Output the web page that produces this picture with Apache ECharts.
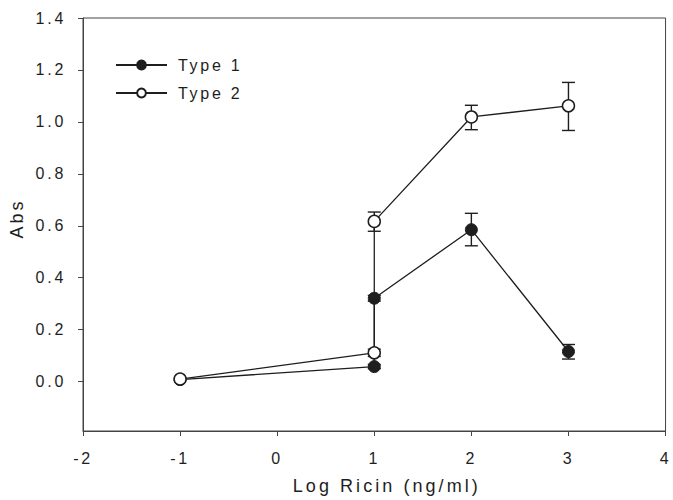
<!DOCTYPE html>
<html>
<head>
<meta charset="utf-8">
<script src="https://cdn.jsdelivr.net/npm/echarts@6/dist/echarts.min.js"></script>
<style>
html,body{margin:0;padding:0;background:#fff}
#c{width:673px;height:500px}
#c text{letter-spacing:0.17em}
</style>
</head>
<body>
<div id="c"></div>
<script>
// Data
const seriesNames = ['Type 1', 'Type 2'];
const type1X = [-1, 1, 1, 2, 3];
const type1Y = [0.008, 0.058, 0.321, 0.585, 0.116];
const type1Low = [0.008, 0.050, 0.310, 0.523, 0.087];
const type1High = [0.008, 0.066, 0.332, 0.648, 0.143];
const type2X = [-1, 1, 1, 2, 3];
const type2Y = [0.010, 0.111, 0.617, 1.019, 1.062];
const type2Low = [0.010, 0.097, 0.579, 0.970, 0.967];
const type2High = [0.010, 0.125, 0.653, 1.064, 1.152];
const yTicks = [0, 0.2, 0.4, 0.6, 0.8, 1.0, 1.2, 1.4];
const xTicks = [-2, -1, 0, 1, 2, 3, 4];

const ink = '#1e1e1e';
const axisInk = '#444';
const font = 'Liberation Sans, Arial, sans-serif';

function pts(xs, ys) { return xs.map((x, i) => [x, ys[i]]); }
function errData(xs, lo, hi) { return xs.map((x, i) => [x, lo[i], hi[i]]); }

function errRender(params, api) {
  const x = api.value(0), lo = api.value(1), hi = api.value(2);
  if (hi - lo < 1e-6) return null;
  const p1 = api.coord([x, lo]), p2 = api.coord([x, hi]);
  const w = 6.5;
  const st = { stroke: ink, lineWidth: 1.4 };
  return { type: 'group', children: [
    { type: 'line', shape: { x1: p1[0], y1: p1[1], x2: p2[0], y2: p2[1] }, style: st },
    { type: 'line', shape: { x1: p1[0] - w, y1: p1[1], x2: p1[0] + w, y2: p1[1] }, style: st },
    { type: 'line', shape: { x1: p2[0] - w, y1: p2[1], x2: p2[0] + w, y2: p2[1] }, style: st }
  ]};
}

const chart = echarts.init(document.getElementById('c'), null, { renderer: 'svg' });
chart.setOption({
  animation: false,
  backgroundColor: '#fff',
  grid: { left: 83, right: 3, top: 18, bottom: 67, show: true, borderColor: axisInk, borderWidth: 1, backgroundColor: 'transparent' },
  legend: {
    orient: 'vertical', left: 110, top: 52, itemWidth: 51, itemHeight: 11, itemGap: 12,
    data: seriesNames,
    textStyle: { fontFamily: font, fontSize: 16, color: ink, padding: [0, 0, 0, 6] }
  },
  xAxis: {
    type: 'value', min: -2, max: 4, interval: 1,
    name: 'Log Ricin (ng/ml)', nameLocation: 'middle', nameGap: 46,
    nameTextStyle: { fontFamily: font, fontSize: 18, color: ink, padding: [0, 0, 0, 25] },
    axisLine: { show: true, onZero: false, lineStyle: { color: axisInk, width: 1 } },
    axisTick: { show: true, length: 5, inside: false, lineStyle: { color: axisInk }, customValues: xTicks },
    axisLabel: { fontFamily: font, fontSize: 16, color: ink, margin: 19, customValues: xTicks },
    splitLine: { show: false }
  },
  yAxis: {
    type: 'value', min: -0.19, max: 1.4,
    name: 'Abs', nameLocation: 'middle', nameGap: 57, nameRotate: 90,
    nameTextStyle: { fontFamily: font, fontSize: 18, color: ink, padding: [0, 0, 0, 12] },
    axisLine: { show: true, onZero: false, lineStyle: { color: axisInk, width: 1 } },
    axisTick: { show: true, length: 5, inside: false, lineStyle: { color: axisInk }, customValues: yTicks },
    axisLabel: { fontFamily: font, fontSize: 16, color: ink, margin: 17, customValues: yTicks,
      formatter: v => v.toFixed(1) },
    splitLine: { show: false }
  },
  series: [
    { type: 'custom', name: 'err1', renderItem: errRender, data: errData(type1X, type1Low, type1High), z: 1, encode: { x: 0, y: [1, 2] }, silent: true },
    { type: 'custom', name: 'err2', renderItem: errRender, data: errData(type2X, type2Low, type2High), z: 1, encode: { x: 0, y: [1, 2] }, silent: true },
    { type: 'line', name: seriesNames[0], data: pts(type1X, type1Y), symbol: 'circle', symbolSize: 12,
      lineStyle: { color: ink, width: 1.3 }, itemStyle: { color: ink, borderColor: ink, borderWidth: 1 }, z: 3 },
    { type: 'line', name: seriesNames[1], data: pts(type2X, type2Y), symbol: 'circle', symbolSize: 12,
      lineStyle: { color: ink, width: 1.3 }, itemStyle: { color: '#fff', borderColor: ink, borderWidth: 1.5 }, z: 4 }
  ]
});
</script>
</body>
</html>
